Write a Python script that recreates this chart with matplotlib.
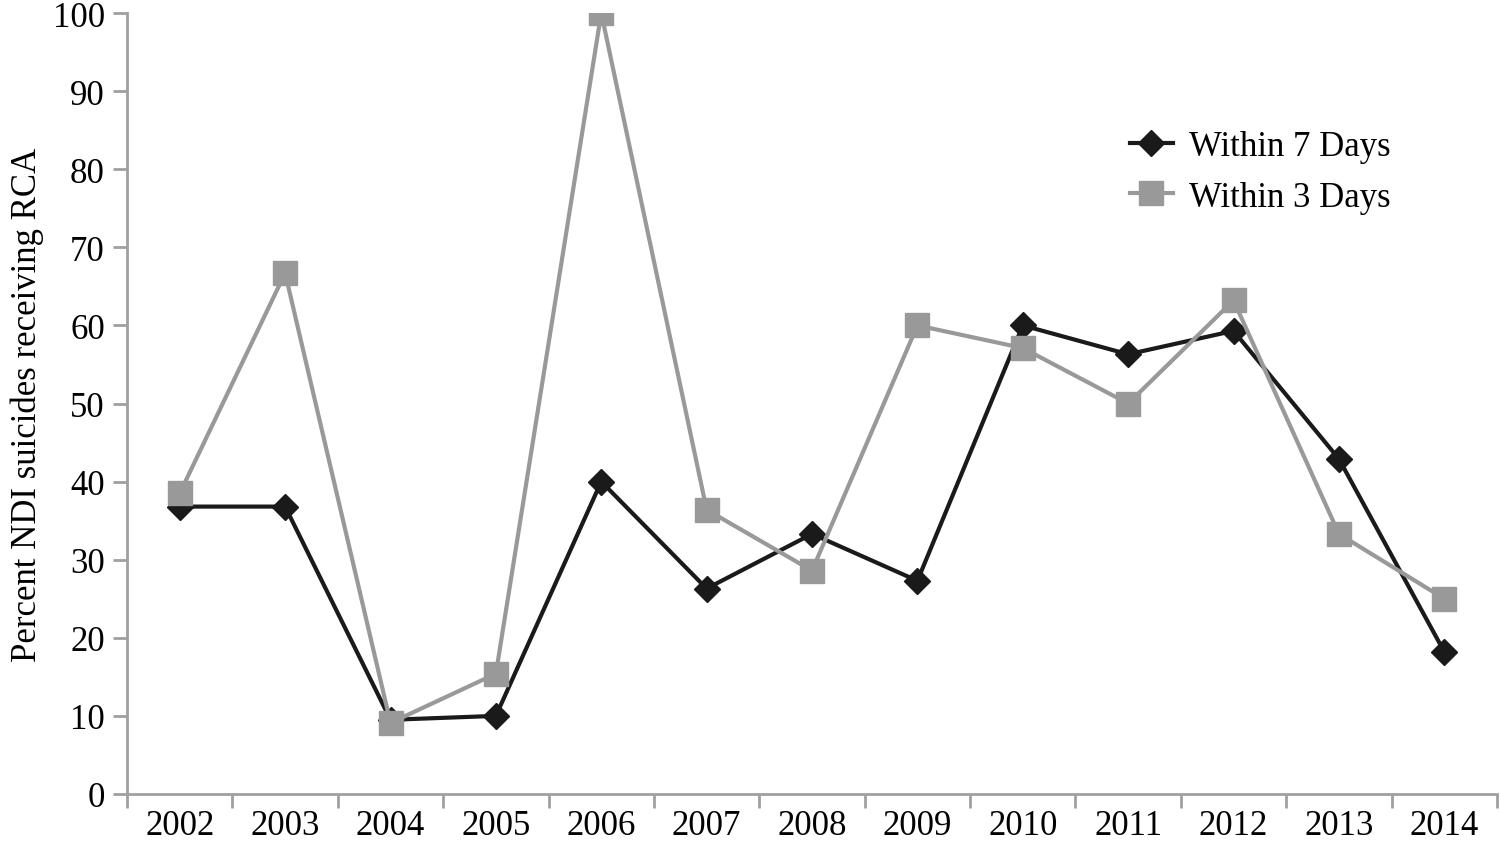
import numpy as np
import matplotlib
matplotlib.use('Agg')
import matplotlib.pyplot as plt

years = ['2002', '2003', '2004', '2005', '2006', '2007', '2008',
         '2009', '2010', '2011', '2012', '2013', '2014']
within7 = [36.8, 36.8, 9.5, 10.0, 40.0, 26.3, 33.3, 27.3, 60.0, 56.3, 59.3, 42.9, 18.2]
within3 = [38.5, 66.7, 9.1, 15.4, 100.0, 36.4, 28.6, 60.0, 57.1, 50.0, 63.2, 33.3, 25.0]

plt.rcParams['font.family'] = ['Liberation Serif', 'DejaVu Serif']
axcol = '#a0a0a0'
fs = 25

fig = plt.figure(figsize=(15, 8.45), dpi=100)
ax = fig.add_axes([0.0847, 0.0592, 0.9133, 0.9242])

x = np.arange(len(years))
ax.plot(x, within7, color='#1a1a1a', lw=3, marker='D', ms=13, label='Within 7 Days', zorder=2)
ax.plot(x, within3, color='#999999', lw=3, marker='s', ms=17, label='Within 3 Days', zorder=3)

ax.set_xlim(-0.5, len(years) - 0.5)
ax.set_ylim(0, 100)
ax.set_yticks(np.arange(0, 101, 10))
ax.set_xticks(x)
ax.set_xticklabels(years)
ax.set_xticks(np.arange(-0.5, len(years)), minor=True)
# labels sit between the boundary ticks, keep them clear of the bottom edge
ax.tick_params(axis='x', which='major', length=0, pad=11, labelsize=fs)
ax.tick_params(axis='x', which='minor', length=10, width=2, color=axcol)
ax.tick_params(axis='y', length=10, width=2, color=axcol, labelsize=fs, pad=6)

for s in ['top', 'right']:
    ax.spines[s].set_visible(False)
for s in ['left', 'bottom']:
    ax.spines[s].set_color(axcol)
    ax.spines[s].set_linewidth(2)

ax.set_ylabel('Percent NDI suicides receiving RCA', fontsize=fs, labelpad=6)

ax.legend(loc='upper left', bbox_to_anchor=(0.709, 0.89), frameon=False,
          fontsize=fs, handlelength=1.25, handletextpad=0.45, labelspacing=0.5)

fig.savefig('out.png', dpi=100)
